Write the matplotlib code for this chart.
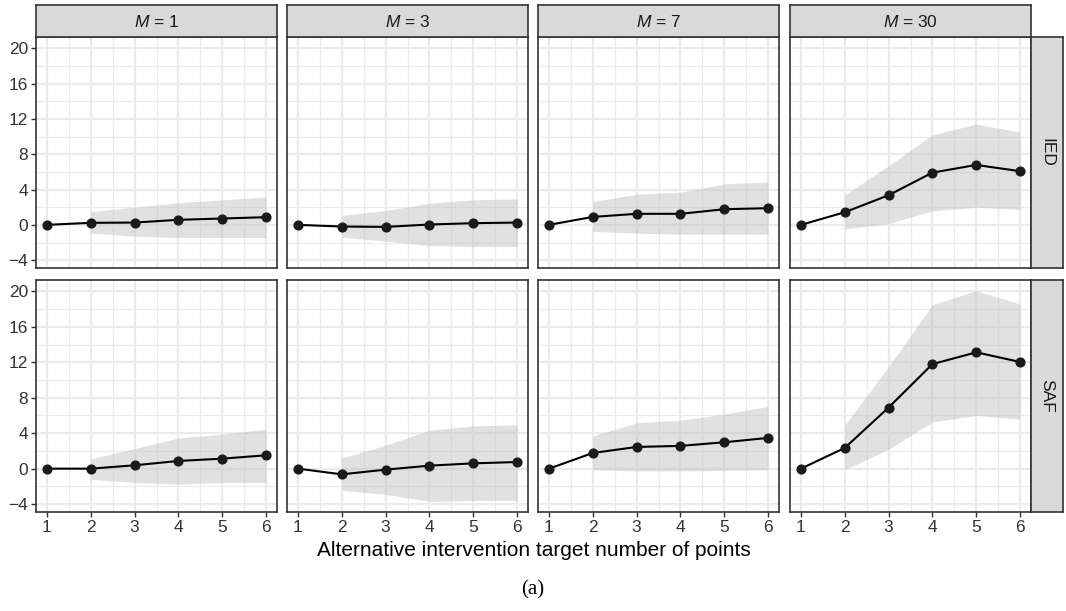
import matplotlib
matplotlib.use("Agg")
import matplotlib.pyplot as plt
import numpy as np

plt.rcParams['font.family'] = ['Liberation Sans', 'DejaVu Sans']
plt.rcParams['mathtext.fontset'] = 'custom'
plt.rcParams['mathtext.it'] = 'Liberation Sans:italic'
plt.rcParams['mathtext.rm'] = 'Liberation Sans'

x_vals = [1, 2, 3, 4, 5, 6]
m_labels = ["1", "3", "7", "30"]
rows = ["IED", "SAF"]

# IED estimates / lower / upper (NaN ribbon at x=1)
ied_est = {
    "1": [0, 0.23, 0.26, 0.57, 0.72, 0.87],
    "3": [0, -0.19, -0.23, 0.04, 0.19, 0.26],
    "7": [0, 0.90, 1.25, 1.25, 1.77, 1.89],
    "30": [0, 1.43, 3.36, 5.92, 6.79, 6.08],
}
ied_lo = {
    "1": [np.nan, -0.94, -1.28, -1.43, -1.43, -1.43],
    "3": [np.nan, -1.40, -1.85, -2.34, -2.45, -2.45],
    "7": [np.nan, -0.75, -0.94, -1.06, -1.06, -1.06],
    "30": [np.nan, -0.45, 0.15, 1.58, 2.00, 1.74],
}
ied_hi = {
    "1": [np.nan, 1.50, 2.00, 2.50, 2.83, 3.17],
    "3": [np.nan, 1.09, 1.62, 2.45, 2.83, 2.94],
    "7": [np.nan, 2.64, 3.47, 3.70, 4.64, 4.87],
    "30": [np.nan, 3.40, 6.70, 10.20, 11.43, 10.50],
}
saf_est = {
    "1": [0, 0.0, 0.38, 0.87, 1.13, 1.51],
    "3": [0, -0.64, -0.11, 0.34, 0.60, 0.75],
    "7": [0, 1.77, 2.45, 2.57, 2.98, 3.47],
    "30": [0, 2.34, 6.90, 11.80, 13.13, 12.04],
}
saf_lo = {
    "1": [np.nan, -1.20, -1.55, -1.74, -1.55, -1.55],
    "3": [np.nan, -2.45, -2.90, -3.70, -3.58, -3.58],
    "7": [np.nan, -0.11, -0.26, -0.26, -0.19, -0.11],
    "30": [np.nan, -0.11, 2.19, 5.28, 6.00, 5.58],
}
saf_hi = {
    "1": [np.nan, 1.13, 2.26, 3.47, 3.89, 4.45],
    "3": [np.nan, 1.20, 2.64, 4.34, 4.83, 4.94],
    "7": [np.nan, 3.70, 5.17, 5.47, 6.15, 7.02],
    "30": [np.nan, 4.90, 11.50, 18.50, 20.10, 18.57],
}
data = {"IED": (ied_est, ied_lo, ied_hi), "SAF": (saf_est, saf_lo, saf_hi)}

y_ticks = [-4, 0, 4, 8, 12, 16, 20]
x_label = "Alternative intervention target number of points"

W, H = 1066, 611
fig = plt.figure(figsize=(W / 100, H / 100), dpi=100)

def rect(x0, y0, x1, y1):
    return [x0 / W, 1 - y1 / H, (x1 - x0) / W, (y1 - y0) / H]

col_x = [(36, 277), (287, 528), (538, 779), (790, 1031)]
row_y = [(37, 268), (280, 512)]
border = "#333333"
grid_c = "#EBEBEB"

# y-limits from data with 5% expansion
allv = []
for r in rows:
    for d in data[r]:
        for m in m_labels:
            allv += [v for v in d[m] if not np.isnan(v)]
ymin, ymax = min(allv), max(allv)
pad = 0.05 * (ymax - ymin)
ylim = (ymin - pad, ymax + pad)
xlim = (1 - 0.25, 6 + 0.25)

for ri, r in enumerate(rows):
    est, lo, hi = data[r]
    for ci, m in enumerate(m_labels):
        x0, x1 = col_x[ci]
        y0, y1 = row_y[ri]
        ax = fig.add_axes(rect(x0, y0, x1, y1))
        ax.set_xlim(*xlim)
        ax.set_ylim(*ylim)
        # grid
        for gx in np.arange(1.5, 6, 1.0):
            ax.axvline(gx, color=grid_c, lw=0.9, zorder=0)
        for gy in np.arange(-2, 20, 4):
            ax.axhline(gy, color=grid_c, lw=0.9, zorder=0)
        for gx in x_vals:
            ax.axvline(gx, color=grid_c, lw=1.6, zorder=0)
        for gy in y_ticks:
            ax.axhline(gy, color=grid_c, lw=1.6, zorder=0)
        ax.fill_between(x_vals, lo[m], hi[m], color="#BDBDBD", alpha=0.45,
                        lw=0, zorder=1)
        ax.plot(x_vals, est[m], color="black", lw=1.5, zorder=2)
        ax.plot(x_vals, est[m], "o", color="#1A1A1A", ms=6.3, zorder=3)
        for s in ax.spines.values():
            s.set_color(border)
            s.set_linewidth(1.2)
        ax.tick_params(colors=border, length=3.5, width=1.0,
                       labelsize=12.5, labelcolor="#333333", pad=2)
        ax.set_xticks(x_vals)
        ax.set_yticks(y_ticks)
        if ci == 0:
            ax.set_yticklabels([str(t).replace("-", "\u2212") for t in y_ticks])
        else:
            ax.tick_params(axis="y", length=0, labelleft=False)
        if ri == 1:
            ax.set_xticklabels([str(v) for v in x_vals])
        else:
            ax.tick_params(axis="x", length=0, labelbottom=False)
        # top strip
        if ri == 0:
            sax = fig.add_axes(rect(x0, 5, x1, 37))
            sax.set_facecolor("#D9D9D9")
            sax.set_xticks([]); sax.set_yticks([])
            for s in sax.spines.values():
                s.set_color(border); s.set_linewidth(1.2)
            sax.text(0.5, 0.47, "$M$ = " + m, ha="center", va="center",
                     fontsize=12.5, color="#1A1A1A", transform=sax.transAxes)
        if ci == 3:
            rax = fig.add_axes(rect(1031, y0, 1063, y1))
            rax.set_facecolor("#D9D9D9")
            rax.set_xticks([]); rax.set_yticks([])
            for s in rax.spines.values():
                s.set_color(border); s.set_linewidth(1.2)
            rax.text(0.5, 0.5, r, ha="center", va="center", rotation=-90,
                     fontsize=12.5, color="#1A1A1A", transform=rax.transAxes)

fig.text((36 + 1031) / 2 / W, 1 - 551 / H, x_label, ha="center", va="center",
         fontsize=15, color="black")
fig.text(533 / W, 1 - 590 / H, "(a)", ha="center", va="center",
         fontsize=15, family="Liberation Serif", color="black")

fig.savefig("out.png", dpi=100)
